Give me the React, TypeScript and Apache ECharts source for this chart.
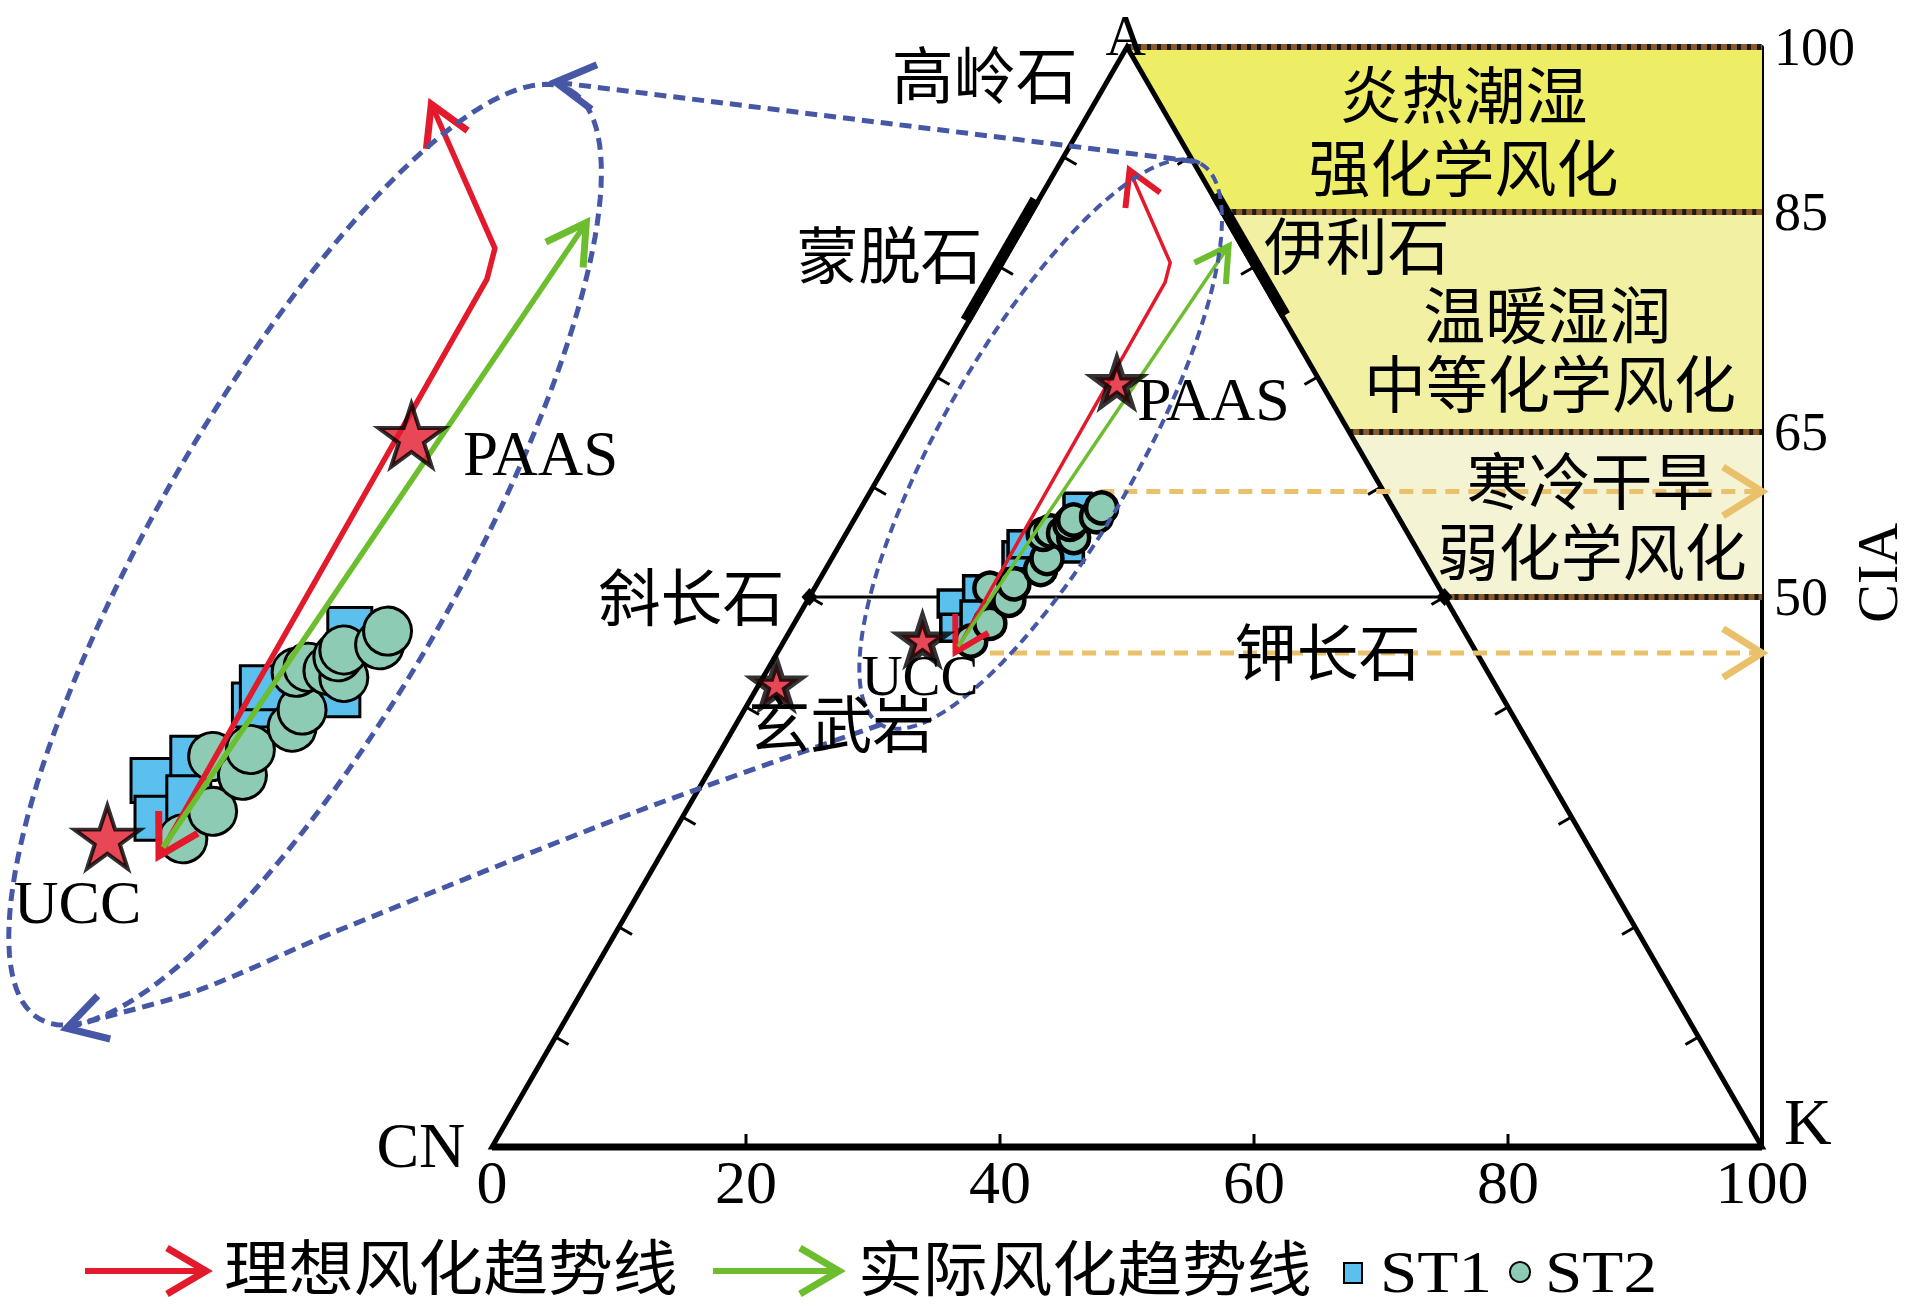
import React, { useEffect, useRef } from "react";
import * as echarts from "echarts";

// ---------------- data (A–CN–K ternary; x = K + A/2 along the base, y = A = CIA) ----------------
const xTicks = [0, 20, 40, 60, 80, 100];
const baseTicks = [20, 40, 60, 80];
const edgeTicks = [10, 20, 30, 40, 50, 60, 70, 80, 90];
const ciaLabels = [50, 65, 85, 100];
const climateBands = [
  [85, 100],
  [65, 85],
  [50, 65],
];
const smectiteRange = [75, 86];
const illiteRange = [75.5, 86.5];
const feldspars = [
  [25, 50],
  [75, 50],
];

const st1 = [
  [36.2, 49.4], [36.4, 47.2], [38.2, 50.7], [38.0, 48.4],
  [41.3, 53.8], [41.7, 54.8], [45.5, 54.4], [46.1, 58.2],
];
const st2 = [
  [37.7, 46.0], [39.2, 47.6], [39.2, 50.8], [40.7, 49.7], [41.1, 51.2],
  [43.2, 52.5], [43.7, 53.5], [43.4, 55.7], [44.0, 56.0], [45.0, 55.8],
  [45.8, 55.4], [45.5, 56.6], [45.8, 57.0], [47.6, 57.3], [48.0, 58.1],
];
const ucc = [33.9, 46.1];
const paas = [49.2, 69.5];
const basalt = [22.4, 42.1];

const idealTrend = [[36.5, 45.0], [53.0, 78.6], [53.4, 80.4], [50.2, 88.8]];
const actualTrend = [[36.7, 45.5], [58.0, 81.9]];
const ciaArrowStarts = [[47.9, 59.6], [37.4, 44.9]];

const mainEllipse = [[30.6, 38.4], [55.8, 89.4]];
const insetEllipse = [[30.5, 35.5], [57.2, 89.6]];
const linkTop = [[55.3, 89.6], [5.0, 96.8]];
const linkBottom = [[30.6, 38.4], [11.4, 30.5], [-12.5, 19.5], [-23.0, 14.3], [-31.1, 11.6], [-33.5, 10.8]];

const mainLabels = [
  ["A", 49.9, 101.0, 56],
  ["高岭石", 38.8, 97.2, 62],
  ["蒙脱石", 31.3, 80.8, 62],
  ["斜长石", 15.7, 49.7, 62],
  ["玄武岩", 27.5, 38.2, 62],
  ["CN", -5.6, 0.1, 64],
  ["K", 103.6, 2.3, 66],
  ["UCC", 33.7, 42.9, 57],
  ["PAAS", 56.8, 68.0, 62],
  ["伊利石", 68.1, 81.6, 62],
  ["炎热潮湿", 76.5, 95.4, 62],
  ["强化学风化", 76.5, 88.7, 62],
  ["温暖湿润", 83.1, 75.4, 62],
  ["中等化学风化", 83.3, 69.1, 62],
  ["寒冷干旱", 86.5, 60.3, 62],
  ["弱化学风化", 86.6, 53.8, 62],
  ["钾长石", 65.8, 44.7, 62],
];
const insetLabels = [
  ["UCC", 32.4, 42.3, 62],
  ["PAAS", 55.7, 68.4, 63],
];

// ---------------- styles ----------------
const FONT = "'Liberation Serif', 'Noto Sans CJK SC', serif";
const RED = "#E21A2C";
const GREEN = "#6CBE2E";
const BLUE = "#4657A6";
const ORANGE = "#EBC06A";
const ST1_FILL = "#5BC0EE";
const ST2_FILL = "#8ECBB4";
const BAND_COLORS = ["#EEEE66", "#F1F0A3", "#F4F3D4"];
const STAR = "path://M50 0 L61.2 34.5 L97.6 34.5 L68.2 55.9 L79.4 90.5 L50 69.1 L20.6 90.5 L31.8 55.9 L2.4 34.5 L38.8 34.5 Z";

function head(tip: number[], from: number[], len: number, ang: number) {
  const dx = from[0] - tip[0];
  const dy = from[1] - tip[1];
  const L = Math.hypot(dx, dy) || 1;
  const ux = dx / L, uy = dy / L;
  const rot = (a: number) => [
    tip[0] + len * (ux * Math.cos(a) - uy * Math.sin(a)),
    tip[1] + len * (ux * Math.sin(a) + uy * Math.cos(a)),
  ];
  return [rot(ang), tip, rot(-ang)];
}

function pl(points: number[][], stroke: string, lineWidth: number, extra: any = {}) {
  return { type: "polyline", shape: { points, ...(extra.shape || {}) }, style: { stroke, lineWidth, fill: null, lineJoin: "miter", ...(extra.style || {}) } };
}

function ellipsePts(p1: number[], p2: number[], ratio: number) {
  const cx = (p1[0] + p2[0]) / 2, cy = (p1[1] + p2[1]) / 2;
  const a = Math.hypot(p2[0] - p1[0], p2[1] - p1[1]) / 2;
  const ux = (p2[0] - p1[0]) / (2 * a), uy = (p2[1] - p1[1]) / (2 * a);
  const vx = -uy, vy = ux, b = a * ratio;
  const pts: number[][] = [];
  for (let i = 0; i <= 160; i++) {
    const t = (2 * Math.PI * i) / 160;
    pts.push([cx + a * Math.cos(t) * ux + b * Math.sin(t) * vx, cy + a * Math.cos(t) * uy + b * Math.sin(t) * vy]);
  }
  return pts;
}

function textEl(p: number[], text: string, size: number, rotation = 0) {
  return {
    type: "text", x: p[0], y: p[1], rotation,
    style: { text, fill: "#000", fontSize: size, fontFamily: FONT, align: "center", verticalAlign: "middle", textAlign: "center", textVerticalAlign: "middle" },
  };
}

function deco(id: string, gi: number, z: number, draw: (c: (p: number[]) => number[]) => any[]) {
  return {
    type: "custom", id, xAxisIndex: gi, yAxisIndex: gi, z, silent: true, clip: false,
    data: [[gi === 0 ? 50 : 40, 50]],
    renderItem: (_params: any, api: any) => ({ type: "group", children: draw((p) => api.coord(p)) }),
  };
}

function trendArrows(c: (p: number[]) => number[], lw: number, hl: number, hw: number) {
  const r = idealTrend.map(c);
  const g = actualTrend.map(c);
  const A = Math.PI / 6;
  return [
    pl(r, RED, lw),
    pl(head(r[r.length - 1], r[r.length - 2], hl, A), RED, hw),
    pl(head(r[0], r[1], hl, A), RED, hw),
    pl(g, GREEN, lw),
    pl(head(g[g.length - 1], g[g.length - 2], hl, A), GREEN, hw),
  ];
}

function buildOption() {
  const series: any[] = [];

  // climate bands
  series.push(deco("bands", 0, 1, (c) => {
    const out: any[] = [];
    climateBands.forEach(([lo, hi], i) => {
      const pts = [[100 - hi / 2, hi], [100 - lo / 2, lo], [100, lo], [100, hi]].map(c);
      out.push({ type: "polygon", shape: { points: pts }, style: { fill: BAND_COLORS[i], stroke: null } });
    });
    [100, 85, 65, 50].forEach((v) => {
      const pts = [c([100 - v / 2, v]), c([100, v])];
      out.push(pl(pts, "#8B5A2B", 6));
      out.push(pl(pts, "#1a1a1a", 6, { style: { lineDash: [4, 6] } }));
    });
    return out;
  }));

  // triangle frame
  series.push(deco("frame", 0, 2, (c) => {
    const out: any[] = [];
    out.push({ type: "polygon", shape: { points: [c([0, 0]), c([50, 100]), c([100, 0])] }, style: { fill: null, stroke: "#000", lineWidth: 5, lineJoin: "miter" } });
    out.push(pl([c([0, 0]), c([100, 0])], "#000", 7));
    edgeTicks.forEach((v) => {
      const l = c([v / 2, v]);
      out.push(pl([l, [l[0] + 15 * 0.866, l[1] + 15 * 0.5]], "#000", 3));
      const r = c([100 - v / 2, v]);
      out.push(pl([r, [r[0] - 15 * 0.866, r[1] + 15 * 0.5]], "#000", 3));
    });
    baseTicks.forEach((v) => {
      const b = c([v, 0]);
      out.push(pl([b, [b[0], b[1] - 13]], "#000", 3));
    });
    out.push(pl([c([25, 50]), c([75, 50])], "#000", 3));
    const s1 = c([smectiteRange[0] / 2, smectiteRange[0]]), s2 = c([smectiteRange[1] / 2, smectiteRange[1]]);
    out.push(pl([[s1[0] - 2.6, s1[1] - 1.5], [s2[0] - 2.6, s2[1] - 1.5]], "#000", 11, { style: { lineCap: "butt" } }));
    const i1 = c([100 - illiteRange[0] / 2, illiteRange[0]]), i2 = c([100 - illiteRange[1] / 2, illiteRange[1]]);
    out.push(pl([[i1[0] + 2.6, i1[1] - 1.5], [i2[0] + 2.6, i2[1] - 1.5]], "#000", 11, { style: { lineCap: "butt" } }));
    feldspars.forEach((f) => {
      const p = c(f);
      out.push({ type: "polygon", shape: { points: [[p[0] - 8, p[1]], [p[0], p[1] - 9], [p[0] + 8, p[1]], [p[0], p[1] + 9]] }, style: { fill: "#000" } });
    });
    return out;
  }));

  // CIA arrows (orange)
  series.push(deco("cia", 0, 3, (c) => {
    const out: any[] = [];
    ciaArrowStarts.forEach((s) => {
      const a = c(s), b = c([100, s[1]]);
      out.push(pl([a, [b[0] - 4, b[1]]], ORANGE, 5, { style: { lineDash: [14, 9] } }));
      out.push(pl(head(b, a, 46, 0.56), ORANGE, 7));
    });
    return out;
  }));

  // samples
  [0, 1].forEach((gi) => {
    const big = gi === 1;
    series.push({
      type: "scatter", name: "ST1", xAxisIndex: gi, yAxisIndex: gi, z: 4, silent: true,
      data: st1, symbol: "rect", symbolSize: big ? 44 : 27,
      itemStyle: { color: ST1_FILL, borderColor: "#000", borderWidth: big ? 3 : 3.5, opacity: 1 },
    });
    series.push({
      type: "scatter", name: "ST2", xAxisIndex: gi, yAxisIndex: gi, z: 4, silent: true,
      data: st2, symbol: "circle", symbolSize: big ? 48 : 31,
      itemStyle: { color: ST2_FILL, borderColor: "#000", borderWidth: big ? 3 : 4.5, opacity: 1 },
    });
  });

  series.push(deco("trendMain", 0, 5, (c) => trendArrows(c, 3.5, 38, 6)));
  series.push(deco("trendInset", 1, 5, (c) => trendArrows(c, 5.5, 45, 7)));

  // reference stars
  series.push({
    type: "scatter", xAxisIndex: 0, yAxisIndex: 0, z: 6, silent: true,
    data: [ucc, paas, basalt], symbol: STAR, symbolSize: [46, 44],
    itemStyle: { color: RED, borderColor: "#000", borderWidth: 6.5 },
  });
  series.push({
    type: "scatter", xAxisIndex: 1, yAxisIndex: 1, z: 6, silent: true,
    data: [ucc, paas], symbol: STAR, symbolSize: [66, 63],
    itemStyle: { color: RED, borderColor: "#000", borderWidth: 4 },
  });

  // zoom ellipses and links
  series.push(deco("zoomMain", 0, 7, (c) => {
    const out: any[] = [];
    out.push({ type: "polygon", shape: { points: ellipsePts(c(mainEllipse[0]), c(mainEllipse[1]), 0.304) }, style: { fill: null, stroke: BLUE, lineWidth: 4, lineDash: [10, 6] } });
    const t = linkTop.map(c);
    out.push(pl(t, BLUE, 5, { style: { lineDash: [12, 7] } }));
    out.push(pl(head(t[1], t[0], 45, Math.PI / 6), BLUE, 7));
    const b = linkBottom.map(c);
    out.push({ type: "polyline", shape: { points: b, smooth: 0.3 }, style: { stroke: BLUE, lineWidth: 5, fill: null, lineDash: [12, 7] } });
    out.push(pl(head(b[b.length - 1], b[b.length - 2], 45, Math.PI / 6), BLUE, 7));
    return out;
  }));
  series.push(deco("zoomInset", 1, 7, (c) => [
    { type: "polygon", shape: { points: ellipsePts(c(insetEllipse[0]), c(insetEllipse[1]), 0.284) }, style: { fill: null, stroke: BLUE, lineWidth: 5, lineDash: [12, 7] } },
  ]));

  // labels
  series.push(deco("labelsMain", 0, 8, (c) => {
    const out = mainLabels.map(([t, x, y, s]: any) => textEl(c([x, y]), t, s));
    out.push(textEl(c([109.1, 52.2]), "CIA", 58, Math.PI / 2));
    return out;
  }));
  series.push(deco("labelsInset", 1, 8, (c) => insetLabels.map(([t, x, y, s]: any) => textEl(c([x, y]), t, s))));

  const legendText = (x: number, y: number, text: string, size: number, sx: number) => ({
    type: "text", x, y, z: 100, scaleX: sx,
    style: { text, fill: "#000", fontSize: size, fontFamily: FONT, align: "left", verticalAlign: "middle", textAlign: "left", textVerticalAlign: "middle" },
  });

  return {
    animation: false,
    backgroundColor: "#fff",
    grid: [
      { left: 492, width: 1270, top: 47, height: 1100 },
      { left: 0, width: 636, top: 32, height: 1030 },
    ],
    xAxis: [
      {
        type: "value", gridIndex: 0, min: 0, max: 100, interval: 20,
        axisLine: { show: false }, axisTick: { show: false }, splitLine: { show: false },
        axisLabel: { fontSize: 62, fontFamily: FONT, color: "#000", margin: 4, formatter: (v: number) => (xTicks.includes(v) ? String(v) : "") },
      },
      { type: "value", gridIndex: 1, min: 28.5, max: 60.5, show: false, splitLine: { show: false } },
    ],
    yAxis: [
      {
        type: "value", gridIndex: 0, min: 0, max: 100, interval: 5, position: "right",
        axisLine: { show: true, onZero: false, lineStyle: { color: "#000", width: 4 } },
        axisTick: { show: false }, splitLine: { show: false },
        axisLabel: { fontSize: 54, fontFamily: FONT, color: "#000", margin: 12, formatter: (v: number) => (ciaLabels.includes(v) ? String(v) : "") },
      },
      { type: "value", gridIndex: 1, min: 33, max: 93, show: false, splitLine: { show: false } },
    ],
    series,
    graphic: [
      { type: "line", shape: { x1: 85, y1: 1271, x2: 203, y2: 1271 }, style: { stroke: RED, lineWidth: 6 } },
      { type: "polyline", shape: { points: [[167, 1248], [206, 1271], [167, 1294]] }, style: { stroke: RED, lineWidth: 7, fill: null } },
      legendText(224, 1270, "理想风化趋势线", 60, 1.08),
      { type: "line", shape: { x1: 713, y1: 1271, x2: 836, y2: 1271 }, style: { stroke: GREEN, lineWidth: 6 } },
      { type: "polyline", shape: { points: [[800, 1248], [839, 1271], [800, 1294]] }, style: { stroke: GREEN, lineWidth: 7, fill: null } },
      legendText(858, 1271, "实际风化趋势线", 60, 1.08),
      { type: "rect", shape: { x: 1344, y: 1263, width: 18, height: 20 }, style: { fill: ST1_FILL, stroke: "#000", lineWidth: 2 } },
      legendText(1380, 1272, "ST1", 60, 1.12),
      { type: "circle", shape: { cx: 1520, cy: 1272, r: 10 }, style: { fill: ST2_FILL, stroke: "#000", lineWidth: 2 } },
      legendText(1545, 1272, "ST2", 60, 1.12),
    ],
  };
}

export default function App() {
  const ref = useRef<HTMLDivElement>(null);
  useEffect(() => {
    document.body.style.margin = "0";
    document.body.style.overflow = "hidden";
    const chart = echarts.init(ref.current as HTMLDivElement, null, { renderer: "svg" });
    chart.setOption(buildOption() as any);
    return () => chart.dispose();
  }, []);
  return <div ref={ref} style={{ width: 1912, height: 1308 }} />;
}
